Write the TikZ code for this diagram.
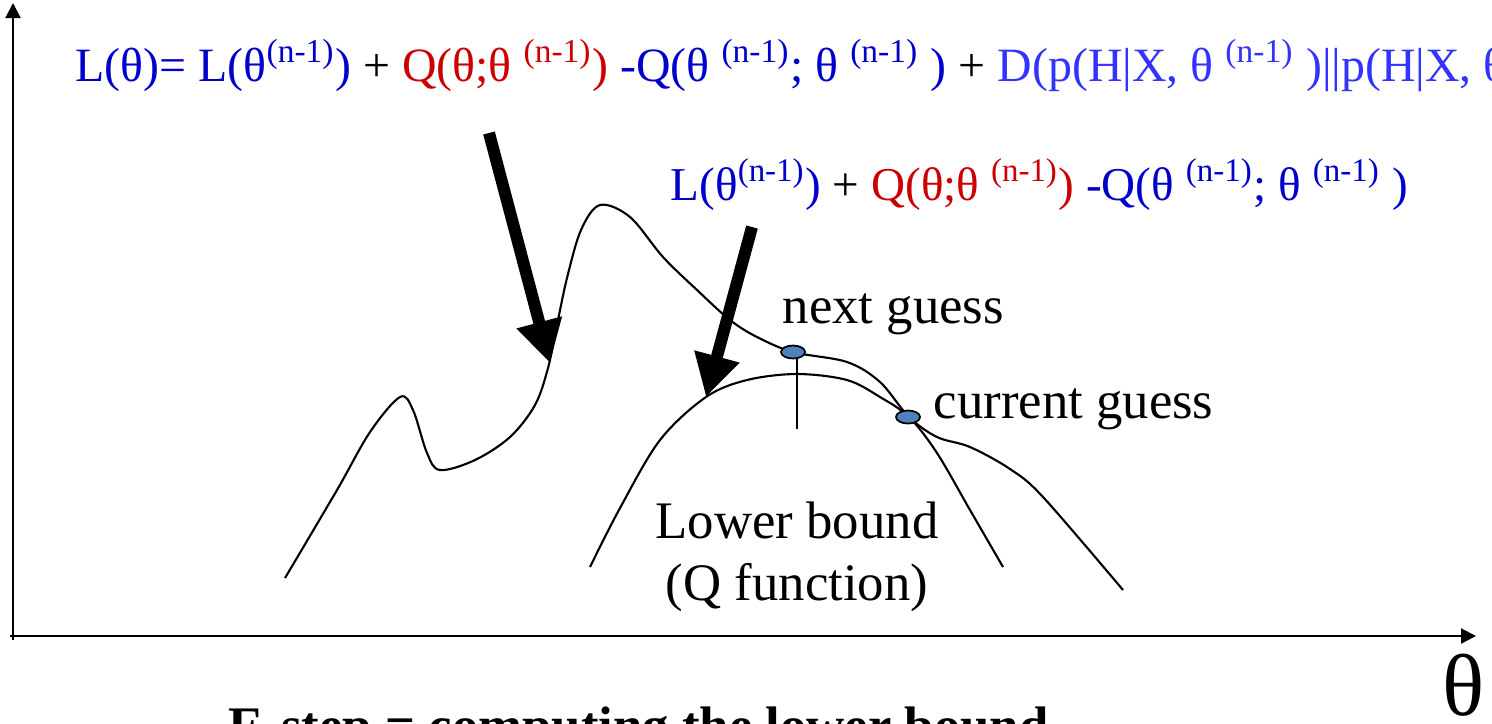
\documentclass[tikz,border=0pt]{standalone}
\usepackage{fontspec}
\setmainfont{Liberation Serif}
\usetikzlibrary{arrows.meta,shapes.geometric,positioning}
\definecolor{fblue}{RGB}{0,0,204}
\definecolor{fred}{RGB}{204,0,0}
\definecolor{flight}{RGB}{51,51,255}
\definecolor{dotblue}{RGB}{79,129,189}
\newcommand{\prevn}{\textsuperscript{(n-1)}}

\begin{document}
\begin{tikzpicture}[x=0.01cm, y=-0.01cm,
    formula/.style={anchor=base west, inner sep=0pt, font=\fontsize{13.4}{16}\selectfont},
    lbl/.style={inner sep=0pt, font=\fontsize{15}{15}\selectfont},
    guess/.style={draw, line width=0.5pt, fill=dotblue, ellipse, minimum width=0.24cm,
                  minimum height=0.13cm, inner sep=0pt},
    fcurve/.style={line width=0.6pt, smooth, tension=0.55},
    bigarr/.style={-{Triangle[length=4.2mm,width=4.4mm]}, line width=3.4pt},
    axisline/.style={-{Triangle[length=1.5mm,width=1.5mm]}, line width=0.6pt}
]
\useasboundingbox (0,0) rectangle (1492,723);
\clip (0,0) rectangle (1492,723);

% Axes
\coordinate (origin) at (13,636);
\coordinate (ytop) at (13,3);
\coordinate (xend) at (1476,636);
\draw[axisline] (13,640) -- (ytop);
\draw[axisline] (10,636) -- (xend);
\node[lbl, anchor=base, font=\fontsize{25}{25}\selectfont] (thetalbl) at (1464,715) {θ};

% Formulas
\node[formula, font=\fontsize{13.6}{16}\selectfont] (lfull) at (75,81)
    {{\color{fblue}L(θ)= L(θ\prevn)} + {\color{fred}Q(θ;θ \prevn)}
    {\color{fblue}-Q(θ \prevn; θ \prevn\ )} + {\color{flight}D(p(H|X, θ \prevn\ )||p(H|X, θ}};
\node[formula] (lbound) at (670,200) {{\color{fblue}L(θ\prevn)} + {\color{fred}Q(θ;θ \prevn)}
    {\color{fblue}-Q(θ \prevn; θ \prevn\ )}};

% Likelihood L(theta)
\draw[fcurve] plot coordinates {(285,578) (337,490) (370,432) (400,397) (413,410)
    (427,453) (440,470) (475,460) (510,437) (535,405) (548,368) (557,325) (567,278)
    (581,230) (600,205) (630,217) (663,257) (697,290) (730,320) (757,337) (793,352)
    (847,362) (880,382) (909,417) (937,437) (970,447) (1010,469) (1043,497) (1123,590)};

% Lower bound (Q function)
\draw[fcurve] plot coordinates {(590,567) (620,508) (660,440) (706,397) (747,380)
    (797,374) (847,380) (880,397) (909,417) (937,453) (970,510) (1003,567)};

% Guesses
\node[guess] (next) at (793,352) {};
\node[guess] (cur) at (908,417) {};
\coordinate (nextfoot) at (797,429);
\draw[line width=0.6pt] (797,358) -- (nextfoot);

\node[lbl, anchor=base west] (nextlbl) at (782,323) {next guess};
\node[lbl, anchor=base west] (curlbl) at (933,418) {current guess};
\node[lbl, anchor=base] (qlbl) at (797,538) {Lower bound};
\node[lbl, anchor=base] (qlbltwo) at (797,600) {(Q function)};

% Arrows to the curves
\coordinate (lstart) at (489,133);
\coordinate (ltip) at (550,363);
\coordinate (qstart) at (752,227);
\coordinate (qtip) at (706,397);
\draw[bigarr] (lstart) -- (ltip);
\draw[bigarr] (qstart) -- (qtip);

% Caption (cut at the bottom)
\node[lbl, anchor=base west, font=\fontsize{15}{15}\selectfont\bfseries] (estep) at (228,743)
    {E-step = computing the lower bound};

\end{tikzpicture}
\end{document}
